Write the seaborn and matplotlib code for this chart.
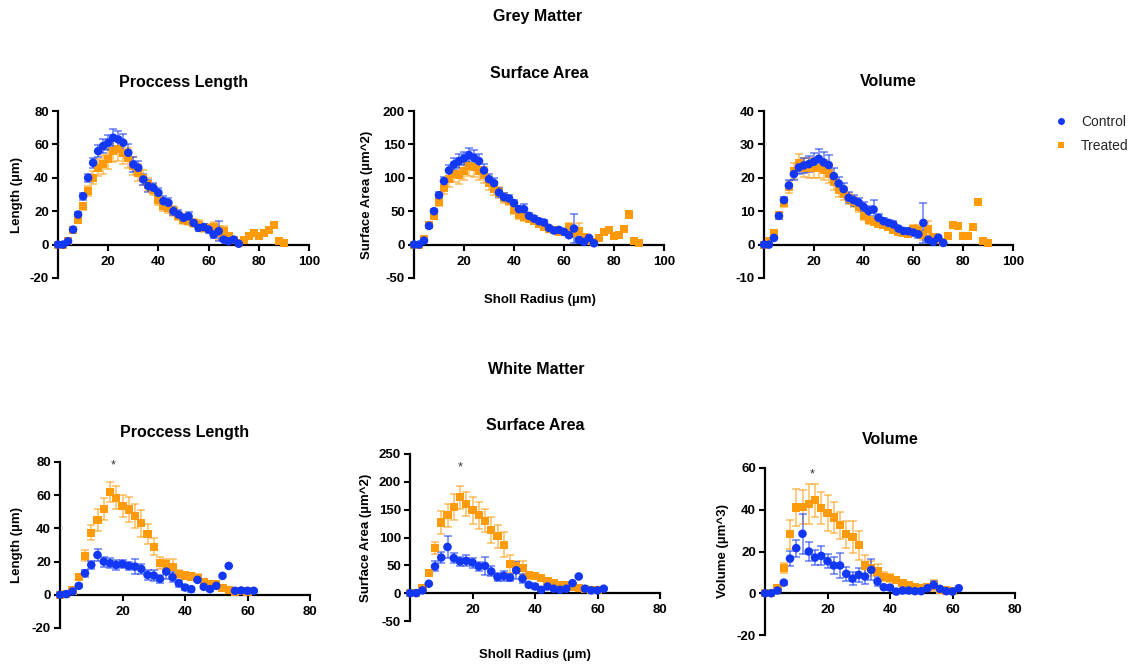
import numpy as np
import pandas as pd
import matplotlib
matplotlib.use("Agg")
import matplotlib.pyplot as plt
from matplotlib.lines import Line2D
import seaborn as sns

# ---------------- data ----------------
RADIUS = [0, 2, 4, 6, 8, 10, 12, 14, 16, 18, 20, 22, 24, 26, 28, 30, 32, 34, 36, 38,
          40, 42, 44, 46, 48, 50, 52, 54, 56, 58, 60, 62, 64, 66, 68, 70, 72, 74, 76, 78,
          80, 82, 84, 86, 88, 90]

# Grey matter - process length
gm_len_ctrl = [0, 0, 2, 9, 18, 29, 40, 49, 56, 59, 61, 64, 63, 61, 55, 48, 46, 39, 35, 34,
               31, 26, 25, 20, 18, 16, 17, 13, 10, 10.5, 9, 6, 8, 3, 2, 3, 0.5]
gm_len_ctrl_sem = [0, 0, 0.5, 1, 1.5, 2, 2.5, 3, 3.5, 4, 4.5, 5, 5, 5.5, 5, 4.5, 4, 3.5, 3.5, 3,
                   3, 3, 3, 2.5, 2.5, 2.5, 2.5, 2, 2, 2, 2, 2, 6, 1, 1, 1, 0.5]
gm_len_trt = [0, 0, 2, 9, 15, 23, 32, 40, 46, 48, 51, 56, 57, 55, 52, 47, 43, 40, 36, 33,
              27, 23, 22, 20, 17, 15, 14, 13, 12, 10, 10, 10.5, 7, 8, 5, 3, 1, 3, 5, 7,
              5, 7, 9, 12, 2, 1]
gm_len_trt_sem = [0, 0, 0.5, 1, 1.5, 2, 3, 4, 5, 5.5, 6, 6.5, 7, 6.5, 6, 5.5, 5, 4.5, 4, 3.5,
                  3, 3, 3, 3, 2.5, 2.5, 2.5, 2.5, 2.5, 2.5, 2.5, 3, 4, 3, 2, 1, 0, 0, 0, 0,
                  0, 0, 0, 0, 0, 0]

# Grey matter - surface area
gm_sa_ctrl = [0, 0, 6, 28, 50, 74, 95, 111, 120, 125, 129, 134, 130, 125, 111, 98, 92, 78, 71, 69,
              62, 53, 53, 43, 39, 35, 33, 25, 21, 22, 19, 14, 24, 7, 4, 10, 2]
gm_sa_ctrl_sem = [0, 0, 1, 2, 3, 4, 6, 8, 9, 10, 10, 11, 11, 10, 9, 8, 7, 6, 6, 5,
                  5, 5, 8, 5, 4, 4, 4, 3, 3, 3, 3, 3, 22, 3, 2, 2, 1]
gm_sa_trt = [0, 0, 9, 29, 43, 64, 85, 98, 106, 105, 110, 117, 116, 111, 104, 92, 84, 78, 70, 66,
             52, 44, 41, 39, 35, 31, 27, 24, 22, 19, 19, 27, 17, 21, 12, 6, 4, 10, 19, 22,
             13, 15, 24, 45, 6, 3]
gm_sa_trt_sem = [0, 0, 2, 3, 4, 6, 9, 12, 13, 14, 14, 15, 15, 14, 12, 10, 9, 8, 7, 6,
                 6, 5, 5, 5, 4, 4, 4, 4, 3, 3, 3, 6, 5, 12, 3, 2, 0, 0, 0, 0,
                 0, 0, 0, 0, 0, 0]

# Grey matter - volume
gm_vol_ctrl = [0, 0, 2, 8.6, 13.3, 17.7, 21.1, 23.1, 23.7, 24.1, 24.8, 25.7, 24.6, 23.8, 20.5,
               18.3, 16.6, 14, 13.3, 12.6, 11.3, 10.1, 10.5, 8, 7, 6.5, 6, 4.8, 4.1, 4,
               3.6, 3.1, 6.5, 1.5, 0.8, 2.1, 0.5]
gm_vol_ctrl_sem = [0, 0, 0.3, 0.8, 1, 1.5, 1.8, 2, 2.2, 2.4, 2.6, 3, 3, 3, 2.4, 2, 1.8, 1.6, 1.6,
                   1.5, 1.5, 1.4, 2.8, 1.2, 1, 1, 1, 0.8, 0.8, 0.8, 0.8, 1, 6, 0.5, 0.4, 0.4, 0.2]
gm_vol_trt = [0, 1, 3.5, 8.8, 12.6, 17.3, 22, 24.5, 23, 22.8, 22.8, 22.8, 22.3, 21.3, 18.8, 16.3,
              15.3, 13.8, 12.8, 11.3, 8.6, 7.3, 6.8, 6.3, 5.8, 5.3, 4.3, 3.8, 3.5, 3.3,
              4.8, 4.3, 2.8, 4.6, 2.3, 1.3, 0.8, 2.6, 6, 5.6, 2.6, 2.6, 5.3, 12.8, 1.1, 0.6]
gm_vol_trt_sem = [0, 0.3, 0.5, 1, 1.3, 1.8, 2.3, 2.6, 2.8, 3, 3, 3, 3, 2.8, 2.4, 2, 1.8, 1.6,
                  1.5, 1.4, 1.2, 1, 1, 0.9, 0.9, 0.8, 0.8, 0.7, 0.7, 0.7, 1.2, 1.5, 1.5, 2.5,
                  0.8, 0.5, 0, 0, 0, 0, 0, 0, 0, 0, 0, 0]

# White matter - process length
wm_len_ctrl = [0, 0.4, 2, 5.4, 13, 18, 24, 20, 19, 18, 18.6, 17.4, 17, 15.6, 12, 11.6, 9.6, 14,
               10.6, 7, 4.4, 3.4, 9, 4.8, 3.4, 5.4, 11.4, 17.4, 2.4, 2.6, 2.4, 2.4]
wm_len_ctrl_sem = [0, 0.2, 0.5, 1, 2, 2.5, 3.5, 3, 3, 3, 2.5, 2.5, 4.5, 3, 3, 3.5, 2.5, 4.5,
                   3, 2, 1.5, 1.5, 1.5, 1, 1, 1, 0, 0, 0.5, 0.5, 0.5, 0.5]
wm_len_trt = [0, 0.5, 2.6, 10.6, 23.6, 37.4, 45, 51.6, 62, 58.4, 53.6, 51.4, 47.4, 43, 36.4, 29,
              19, 18.4, 17, 12.4, 11.6, 11, 10, 7.6, 6.6, 6.4, 4, 3, 2, 2.4, 2]
wm_len_trt_sem = [0, 0.3, 0.8, 1.5, 3.5, 4.5, 6.5, 6.5, 6, 7, 6.5, 7.5, 7, 8, 6, 5, 3.5, 3,
                  4.5, 2.5, 2, 2, 2.5, 1.5, 1.5, 1.5, 1, 1, 0.8, 0.8, 0.5]

# White matter - surface area
wm_sa_ctrl = [0, 0, 5, 17, 48, 64, 83, 63, 57, 58, 55, 48, 49, 39, 29, 31, 28, 41, 26, 15,
              12, 6, 12, 8, 6, 8, 18, 30, 8, 5, 5, 8]
wm_sa_ctrl_sem = [0, 0, 1, 2, 9, 10, 19, 9, 8, 10, 9, 8, 16, 9, 7, 9, 7, 15, 8, 4,
                  4, 2, 3, 2, 2, 2, 0, 0, 2, 1, 1, 1]
wm_sa_trt = [0, 0, 9, 36, 81, 127, 140, 155, 172, 160, 149, 140, 130, 113, 102, 87, 52, 48, 45,
             32, 31, 27, 22, 19, 15, 14, 12, 10, 7, 6, 5]
wm_sa_trt_sem = [0, 0, 2, 4, 11, 20, 21, 23, 20, 22, 24, 24, 21, 23, 21, 22, 16, 10, 12, 6,
                 6, 5, 5, 4, 4, 3, 3, 3, 2, 2, 1]

# White matter - volume
wm_vol_ctrl = [0, 0, 1.3, 5.1, 16.6, 21.6, 28.5, 20, 17.1, 17.9, 15.4, 13.3, 13.3, 9.3, 7, 8.8,
               8, 11.2, 5.6, 2.9, 2.7, 0.8, 1.3, 1.3, 1, 1, 2.4, 4, 2.1, 1, 0.8, 2.4]
wm_vol_ctrl_sem = [0, 0, 0.3, 1, 3.5, 4, 9.5, 4.5, 3.5, 4.5, 3.5, 4, 6, 3.5, 3, 3.5, 3.5, 5,
                   2, 1, 1, 0.3, 0.5, 0.5, 0.3, 0.3, 1, 2, 0.8, 0.3, 0.3, 0]
wm_vol_trt = [0, 0, 2.4, 12, 28.3, 41.1, 41.3, 42.7, 44.5, 40.8, 38.4, 36.3, 32.6, 28.2, 26.9,
              23, 13.3, 12, 10.4, 8, 7.2, 6.4, 4.8, 4, 3.2, 2.7, 3.2, 3.7, 1.6, 1.3, 1.1]
wm_vol_trt_sem = [0, 0, 0.8, 2.5, 7, 9, 8, 9.5, 8, 7.5, 8.5, 7.5, 6.5, 6.5, 7.5, 7, 5, 3.5,
                  3.5, 2, 2, 1.5, 1.2, 1, 0.8, 0.8, 1, 2.5, 0.6, 0.5, 0.4]

GROUPS = ["Control", "Treated"]
SECTIONS = ["Grey Matter", "White Matter"]
TITLES = ["Proccess Length", "Surface Area", "Volume"]
XLABEL = "Sholl Radius (\u00b5m)"
YLABELS_GM = ["Length (\u00b5m)", "Surface Area (\u00b5m^2)", None]
YLABELS_WM = ["Length (\u00b5m)", "Surface Area (\u00b5m^2)", "Volume (\u00b5m^3)"]
YTICKS = [[-20, 0, 20, 40, 60, 80], [-50, 0, 50, 100, 150, 200], [-10, 0, 10, 20, 30, 40],
          [-20, 0, 20, 40, 60, 80], [-50, 0, 50, 100, 150, 200, 250], [-20, 0, 20, 40, 60]]
XTICKS_GM = [20, 40, 60, 80, 100]
XTICKS_WM = [20, 40, 60, 80]
STAR_POS = [(17, 78), (16, 225), (15, 57)]

# ---------------- style ----------------
sns.set_theme(style="white")
plt.rcParams["font.family"] = ["Liberation Sans", "DejaVu Sans"]
plt.rcParams["font.weight"] = "bold"
plt.rcParams["axes.unicode_minus"] = False

BLUE = "#1238F5"
ORANGE = "#FF9A0A"
W, H = 1134, 666

fig = plt.figure(figsize=(W / 100, H / 100), dpi=100)


def rect(x0, x1, ytop, ybot):
    return [x0 / W, 1 - ybot / H, (x1 - x0) / W, (ybot - ytop) / H]


panels = [
    dict(r=rect(58, 309, 111, 278), ctrl=(gm_len_ctrl, gm_len_ctrl_sem), trt=(gm_len_trt, gm_len_trt_sem),
         xt=XTICKS_GM, xl=(0, 100), title=TITLES[0], ty=82, yl=YLABELS_GM[0], ylx=17),
    dict(r=rect(414, 664, 111, 278), ctrl=(gm_sa_ctrl, gm_sa_ctrl_sem), trt=(gm_sa_trt, gm_sa_trt_sem),
         xt=XTICKS_GM, xl=(0, 100), title=TITLES[1], ty=73, yl=YLABELS_GM[1], ylx=367),
    dict(r=rect(764, 1013, 111, 278), ctrl=(gm_vol_ctrl, gm_vol_ctrl_sem), trt=(gm_vol_trt, gm_vol_trt_sem),
         xt=XTICKS_GM, xl=(0, 100), title=TITLES[2], ty=82, yl=YLABELS_GM[2], ylx=None),
    dict(r=rect(60, 310, 462, 628), ctrl=(wm_len_ctrl, wm_len_ctrl_sem), trt=(wm_len_trt, wm_len_trt_sem),
         xt=XTICKS_WM, xl=(0, 80), title=TITLES[0], ty=433, yl=YLABELS_WM[0], ylx=17),
    dict(r=rect(410, 660, 454, 621), ctrl=(wm_sa_ctrl, wm_sa_ctrl_sem), trt=(wm_sa_trt, wm_sa_trt_sem),
         xt=XTICKS_WM, xl=(0, 80), title=TITLES[1], ty=425, yl=YLABELS_WM[1], ylx=366),
    dict(r=rect(765, 1015, 468, 635), ctrl=(wm_vol_ctrl, wm_vol_ctrl_sem), trt=(wm_vol_trt, wm_vol_trt_sem),
         xt=XTICKS_WM, xl=(0, 80), title=TITLES[2], ty=440, yl=YLABELS_WM[2], ylx=723),
]

for i, p in enumerate(panels):
    ax = fig.add_axes(p["r"])
    for (mean, sem), color, marker, grp in [(p["trt"], ORANGE, "s", GROUPS[1]),
                                            (p["ctrl"], BLUE, "o", GROUPS[0])]:
        n = len(mean)
        df = pd.DataFrame({"r": RADIUS[:n], "v": mean, "sem": sem, "group": grp})
        e = df[df["sem"] > 0]
        ax.errorbar(e["r"], e["v"], yerr=e["sem"], fmt="none", ecolor=color, alpha=0.55,
                    elinewidth=1.3, capsize=3, capthick=1.3, zorder=2, clip_on=False)
        sns.scatterplot(data=df, x="r", y="v", ax=ax, color=color, marker=marker,
                        s=38 if marker == "o" else 34, edgecolor="none", linewidth=0,
                        zorder=3, clip_on=False, legend=False)
    yt = YTICKS[i]
    ax.set_ylim(yt[0], yt[-1])
    ax.set_xlim(*p["xl"])
    ax.set_yticks(yt)
    ax.set_xticks(p["xt"])
    ax.set_xlabel("")
    ax.set_ylabel("")
    for s in ["top", "right"]:
        ax.spines[s].set_visible(False)
    ax.spines["bottom"].set_position(("data", 0))
    for s in ["left", "bottom"]:
        ax.spines[s].set_linewidth(1.6)
        ax.spines[s].set_color("black")
    ax.tick_params(axis="both", direction="out", length=4.5, width=1.5, labelsize=9.5,
                   colors="black", left=True, bottom=True)
    ax.tick_params(axis="x", pad=3.5)
    ax.tick_params(axis="y", pad=2)
    for lab in ax.get_xticklabels() + ax.get_yticklabels():
        lab.set_fontweight("bold")
    ax.set_facecolor("none")
    # title
    cx = (p["r"][0] + p["r"][2] / 2)
    fig.text(cx, 1 - p["ty"] / H, p["title"], ha="center", va="center", fontsize=11.5,
             fontweight="bold", color="black")
    if p["yl"]:
        fig.text(p["ylx"] / W, p["r"][1] + p["r"][3] / 2, p["yl"], rotation=90, ha="center",
                 va="center", fontsize=9.5, fontweight="bold", color="black")
    if i >= 3:
        sx, sy = STAR_POS[i - 3]
        ax.text(sx, sy, "*", ha="center", va="center", fontsize=9, color="#333333",
                fontweight="normal")

fig.text(538 / W, 1 - 16 / H, SECTIONS[0], ha="center", va="center", fontsize=11.5,
         fontweight="bold", color="black")
fig.text(536 / W, 1 - 370 / H, SECTIONS[1], ha="center", va="center", fontsize=11.5,
         fontweight="bold", color="black")
fig.text(540 / W, 1 - 300 / H, XLABEL, ha="center", va="center", fontsize=9.5,
         fontweight="bold", color="black")
fig.text(535 / W, 1 - 655 / H, XLABEL, ha="center", va="center", fontsize=9.5,
         fontweight="bold", color="black")

handles = [Line2D([], [], linestyle="none", marker="o", color=BLUE, markersize=5, markeredgewidth=0),
           Line2D([], [], linestyle="none", marker="s", color=ORANGE, markersize=5, markeredgewidth=0)]
leg = fig.legend(handles, GROUPS, loc="upper left", bbox_to_anchor=(1054 / W, 1 - 115 / H),
                 frameon=False, fontsize=10, handletextpad=0.95, labelspacing=0.7,
                 handlelength=1.0, borderaxespad=0, borderpad=0)
for t in leg.get_texts():
    t.set_fontweight("normal")

fig.savefig("out.png", dpi=100)
